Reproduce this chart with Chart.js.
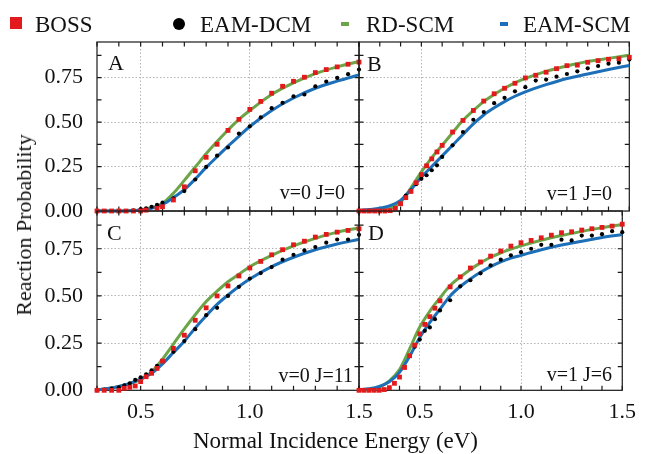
<!DOCTYPE html>
<html>
<head>
<meta charset="utf-8">
<script src="https://cdn.jsdelivr.net/npm/chart.js@4.4.1/dist/chart.umd.min.js"></script>
<style>
  body { margin: 0; background: #fff; }
  #wrap { position: relative; width: 645px; height: 454px; font-family: "Liberation Serif", "Times New Roman", serif; color: #111; }
  #wrap canvas { position: absolute; left: 0; top: 0; }
  .t { position: absolute; white-space: nowrap; line-height: 1; }
  .mk { position: absolute; }
</style>
</head>
<body>
<div id="wrap">
  <canvas id="panelA" width="645" height="454"></canvas>
  <canvas id="panelB" width="645" height="454"></canvas>
  <canvas id="panelC" width="645" height="454"></canvas>
  <canvas id="panelD" width="645" height="454"></canvas>

  <!-- legend -->
  <div class="mk" style="left:10px;top:17px;width:12px;height:12px;background:#e31a1c"></div>
  <div class="t" style="left:35px;top:12.7px;font-size:23px">BOSS</div>
  <div class="mk" style="left:173px;top:18px;width:12px;height:12px;border-radius:50%;background:#000"></div>
  <div class="t" style="left:200px;top:12.7px;font-size:23px">EAM-DCM</div>
  <div class="mk" style="left:341px;top:22px;width:8px;height:4px;background:#6ba547"></div>
  <div class="t" style="left:366px;top:12.7px;font-size:23px">RD-SCM</div>
  <div class="mk" style="left:500px;top:22px;width:8px;height:4px;background:#1d6fb8"></div>
  <div class="t" style="left:523px;top:12.7px;font-size:23px">EAM-SCM</div>

  <!-- panel labels -->
  <div class="t" style="left:108px;top:51.6px;font-size:22px">A</div>
  <div class="t" style="left:367px;top:52.6px;font-size:22px">B</div>
  <div class="t" style="left:107px;top:221.6px;font-size:22px">C</div>
  <div class="t" style="left:368px;top:221.6px;font-size:22px">D</div>
  <div class="t" style="right:300px;top:182.3px;font-size:20px">v=0 J=0</div>
  <div class="t" style="right:33px;top:183.3px;font-size:20px">v=1 J=0</div>
  <div class="t" style="right:292px;top:365.3px;font-size:20px">v=0 J=11</div>
  <div class="t" style="right:33px;top:364.3px;font-size:20px">v=1 J=6</div>

  <!-- axis titles -->
  <div class="t" style="left:193px;top:428.7px;font-size:23px">Normal Incidence Energy (eV)</div>
  <div class="t" style="left:23.5px;top:225px;font-size:22px;transform:translate(-50%,-50%) rotate(-90deg)">Reaction Probability</div>
</div>

<script>
// ---- data ----
const xTicks = [0.5, 1.0, 1.5];
const yTicks = [0, 0.25, 0.5, 0.75];

// panel A  (v=0 J=0)
const bossEA = [0.3, 0.333, 0.367, 0.4, 0.433, 0.467, 0.5, 0.525, 0.575, 0.6, 0.65, 0.7, 0.75, 0.8, 0.85, 0.9, 0.95, 1.0, 1.05, 1.1, 1.15, 1.2, 1.25, 1.3, 1.35, 1.4, 1.45, 1.5];
const bossA = [0, 0, 0, 0, 0, 0, 0, 0.005, 0.015, 0.024, 0.062, 0.136, 0.226, 0.302, 0.375, 0.453, 0.515, 0.571, 0.616, 0.662, 0.701, 0.729, 0.752, 0.778, 0.795, 0.81, 0.825, 0.837];
const dcmEA = [0.3, 0.333, 0.367, 0.4, 0.433, 0.467, 0.5, 0.525, 0.55, 0.575, 0.6, 0.65, 0.7, 0.75, 0.8, 0.85, 0.9, 0.95, 1.0, 1.05, 1.1, 1.15, 1.2, 1.25, 1.3, 1.35, 1.4, 1.45, 1.5];
const dcmA = [0, 0, 0, 0, 0, 0.003, 0.011, 0.015, 0.024, 0.034, 0.047, 0.071, 0.112, 0.177, 0.248, 0.311, 0.357, 0.435, 0.476, 0.526, 0.578, 0.608, 0.644, 0.655, 0.7, 0.728, 0.748, 0.769, 0.795];
const lineEA = [0.3, 0.35, 0.4, 0.45, 0.5, 0.55, 0.6, 0.65, 0.7, 0.75, 0.8, 0.85, 0.9, 0.95, 1.0, 1.1, 1.2, 1.3, 1.4, 1.5];
const rdA = [0, 0, 0, 0.001, 0.006, 0.018, 0.042, 0.1, 0.172, 0.247, 0.322, 0.39, 0.455, 0.515, 0.565, 0.655, 0.72, 0.772, 0.81, 0.84];
const eamA = [0, 0, 0, 0.001, 0.005, 0.015, 0.037, 0.075, 0.12, 0.18, 0.245, 0.305, 0.365, 0.42, 0.475, 0.565, 0.635, 0.69, 0.73, 0.765];

// panel B  (v=1 J=0)
const bossEB = [0.2, 0.225, 0.25, 0.275, 0.3, 0.325, 0.35, 0.375, 0.4, 0.425, 0.45, 0.475, 0.5, 0.525, 0.55, 0.575, 0.6, 0.65, 0.7, 0.75, 0.8, 0.85, 0.9, 0.95, 1.0, 1.05, 1.1, 1.15, 1.2, 1.25, 1.3, 1.35, 1.4, 1.45, 1.5];
const bossB = [0, 0, 0, 0, 0, 0, 0.002, 0.015, 0.041, 0.075, 0.11, 0.159, 0.205, 0.254, 0.293, 0.332, 0.369, 0.444, 0.509, 0.565, 0.618, 0.659, 0.69, 0.718, 0.748, 0.763, 0.78, 0.8, 0.817, 0.82, 0.836, 0.845, 0.853, 0.856, 0.864];
const dcmEB = [0.425, 0.45, 0.475, 0.5, 0.525, 0.55, 0.575, 0.6, 0.65, 0.7, 0.75, 0.8, 0.85, 0.9, 0.95, 1.0, 1.05, 1.1, 1.15, 1.2, 1.25, 1.3, 1.35, 1.4, 1.45, 1.5];
const dcmB = [0.086, 0.114, 0.151, 0.181, 0.201, 0.229, 0.257, 0.304, 0.369, 0.444, 0.513, 0.556, 0.606, 0.636, 0.673, 0.696, 0.733, 0.739, 0.755, 0.77, 0.785, 0.802, 0.815, 0.828, 0.834, 0.851];
const lineEB = [0.2, 0.25, 0.3, 0.35, 0.4, 0.45, 0.5, 0.55, 0.6, 0.65, 0.7, 0.75, 0.8, 0.85, 0.9, 0.95, 1.0, 1.1, 1.2, 1.3, 1.4, 1.5];
const rdB = [0, 0.001, 0.004, 0.015, 0.05, 0.13, 0.22, 0.3, 0.37, 0.44, 0.51, 0.565, 0.615, 0.655, 0.69, 0.72, 0.745, 0.785, 0.815, 0.84, 0.858, 0.875];
const eamB = [0.004, 0.008, 0.015, 0.03, 0.06, 0.12, 0.19, 0.25, 0.31, 0.37, 0.43, 0.49, 0.54, 0.58, 0.615, 0.645, 0.67, 0.71, 0.745, 0.77, 0.795, 0.818];

// panel C  (v=0 J=11)
const bossEC = [0.3, 0.333, 0.367, 0.4, 0.425, 0.45, 0.475, 0.5, 0.525, 0.55, 0.575, 0.6, 0.65, 0.7, 0.75, 0.8, 0.85, 0.9, 0.95, 1.0, 1.05, 1.1, 1.15, 1.2, 1.25, 1.3, 1.35, 1.4, 1.45, 1.5];
const bossC = [0, 0, 0, 0, 0.011, 0.016, 0.023, 0.046, 0.072, 0.09, 0.116, 0.155, 0.222, 0.292, 0.371, 0.437, 0.5, 0.553, 0.606, 0.648, 0.683, 0.718, 0.745, 0.771, 0.79, 0.812, 0.826, 0.838, 0.847, 0.856];
const dcmEC = bossEC;
const dcmC = [0, 0.002, 0.009, 0.016, 0.026, 0.037, 0.055, 0.069, 0.085, 0.106, 0.129, 0.155, 0.204, 0.261, 0.324, 0.398, 0.437, 0.5, 0.548, 0.592, 0.621, 0.653, 0.692, 0.718, 0.741, 0.759, 0.782, 0.799, 0.799, 0.824];
const lineEC = lineEA;
const rdC = [0.003, 0.009, 0.02, 0.035, 0.058, 0.097, 0.165, 0.245, 0.325, 0.4, 0.47, 0.525, 0.575, 0.615, 0.655, 0.715, 0.765, 0.805, 0.838, 0.86];
const eamC = [0.003, 0.009, 0.02, 0.036, 0.06, 0.09, 0.14, 0.2, 0.26, 0.33, 0.395, 0.455, 0.505, 0.55, 0.59, 0.655, 0.705, 0.745, 0.775, 0.8];

// panel D  (v=1 J=6)
const bossED = bossEB;
const bossD = [0, 0, 0, 0, 0, 0.004, 0.014, 0.037, 0.07, 0.121, 0.183, 0.239, 0.299, 0.349, 0.39, 0.435, 0.474, 0.548, 0.601, 0.648, 0.68, 0.711, 0.738, 0.764, 0.782, 0.794, 0.808, 0.822, 0.835, 0.84, 0.849, 0.856, 0.863, 0.87, 0.88];
const dcmED = [0.475, 0.5, 0.525, 0.55, 0.575, 0.6, 0.65, 0.7, 0.75, 0.8, 0.85, 0.9, 0.95, 1.0, 1.05, 1.1, 1.15, 1.2, 1.25, 1.3, 1.35, 1.4, 1.45, 1.5];
const dcmD = [0.231, 0.269, 0.315, 0.333, 0.377, 0.423, 0.477, 0.551, 0.583, 0.62, 0.662, 0.692, 0.715, 0.732, 0.75, 0.771, 0.771, 0.798, 0.794, 0.82, 0.82, 0.827, 0.843, 0.838];
const lineED = lineEB;
const rdD = [0, 0.004, 0.017, 0.05, 0.11, 0.22, 0.335, 0.42, 0.49, 0.555, 0.6, 0.64, 0.675, 0.705, 0.728, 0.748, 0.765, 0.795, 0.82, 0.842, 0.862, 0.878];
const eamD = [0.003, 0.008, 0.02, 0.045, 0.095, 0.18, 0.28, 0.36, 0.43, 0.5, 0.55, 0.59, 0.625, 0.655, 0.68, 0.7, 0.715, 0.745, 0.77, 0.79, 0.81, 0.825];

// ---- styling ----
const RED = '#e31a1c', GREEN = '#6ba547', BLUE = '#1d6fb8';
const FONT = 'Liberation Serif';
Chart.defaults.font.family = FONT;

const pts = (xs, ys) => xs.map((x, i) => ({ x: x, y: ys[i] }));

// frame with inward minor ticks, drawn under the data
const framePlugin = {
  id: 'frame',
  beforeDatasetsDraw(chart) {
    const { ctx, chartArea: a, scales } = chart;
    const sx = scales.x, sy = scales.y;
    ctx.save();
    ctx.strokeStyle = '#1a1a1a';
    ctx.lineWidth = 1.2;
    ctx.strokeRect(a.left, a.top, a.right - a.left, a.bottom - a.top);
    ctx.beginPath();
    for (let k = Math.round(sx.min * 10); k <= 15; k++) {
      const px = sx.getPixelForValue(k / 10);
      ctx.moveTo(px, a.bottom); ctx.lineTo(px, a.bottom - 4.5);
      ctx.moveTo(px, a.top); ctx.lineTo(px, a.top + 4.5);
    }
    for (let k = 1; k <= 7; k++) {
      const py = sy.getPixelForValue(k * 0.125);
      ctx.moveTo(a.left, py); ctx.lineTo(a.left + 4.5, py);
      ctx.moveTo(a.right, py); ctx.lineTo(a.right - 4.5, py);
    }
    ctx.stroke();
    ctx.restore();
  }
};

// box = [left, top, right, bottom] of the plot area in page pixels
function makePanel(id, box, xMin, showX, showY, s) {
  const yW = showY ? 90 : 0;   // room kept for y tick labels (labels are clipped to the axis box)
  const xH = showX ? 50 : 0;
  return new Chart(document.getElementById(id), {
    type: 'scatter',
    data: {
      datasets: [
        { label: 'BOSS', data: pts(s.bossE, s.boss), pointStyle: 'rect', pointRadius: 3.4,
          pointBackgroundColor: RED, pointBorderWidth: 0, clip: false },
        { label: 'EAM-DCM', data: pts(s.dcmE, s.dcm), pointStyle: 'circle', pointRadius: 2.1,
          pointBackgroundColor: '#000', pointBorderWidth: 0, clip: false },
        { label: 'EAM-SCM', data: pts(s.lineE, s.eam), showLine: true, pointRadius: 0,
          borderColor: BLUE, borderWidth: 3, cubicInterpolationMode: 'monotone', clip: false },
        { label: 'RD-SCM', data: pts(s.lineE, s.rd), showLine: true, pointRadius: 0,
          borderColor: GREEN, borderWidth: 3, cubicInterpolationMode: 'monotone', clip: false }
      ]
    },
    options: {
      responsive: false,
      animation: false,
      events: [],
      layout: {
        autoPadding: false,
        padding: { left: box[0] - yW, top: box[1], right: 645 - box[2], bottom: 454 - box[3] - xH }
      },
      plugins: { legend: { display: false }, tooltip: { enabled: false } },
      scales: {
        x: {
          type: 'linear', min: xMin, max: 1.5,
          afterBuildTicks: (sc) => { sc.ticks = xTicks.map(v => ({ value: v })); },
          afterFit: (sc) => { sc.height = xH; },
          grid: { color: '#b4b4b4', lineWidth: 1, drawTicks: false },
          border: { display: false, dash: [1.5, 2] },
          ticks: { display: showX, padding: 9, maxRotation: 0, autoSkip: false, color: '#111',
                   font: { size: 22 }, callback: (v) => v.toFixed(1) }
        },
        y: {
          min: 0, max: 0.95,
          afterBuildTicks: (sc) => { sc.ticks = yTicks.map(v => ({ value: v })); },
          afterFit: (sc) => { sc.width = yW; },
          grid: { color: '#b4b4b4', lineWidth: 1, drawTicks: false },
          border: { display: false, dash: [1.5, 2] },
          ticks: { display: showY, padding: 14, autoSkip: false, color: '#111',
                   font: { size: 22 }, callback: (v) => v.toFixed(2) }
        }
      }
    },
    plugins: [framePlugin]
  });
}

makePanel('panelA', [97, 42, 359, 211], 0.3, false, true,
  { bossE: bossEA, boss: bossA, dcmE: dcmEA, dcm: dcmA, lineE: lineEA, rd: rdA, eam: eamA });
makePanel('panelB', [359, 42, 629.3, 211], 0.2, false, false,
  { bossE: bossEB, boss: bossB, dcmE: dcmEB, dcm: dcmB, lineE: lineEB, rd: rdB, eam: eamB });
makePanel('panelC', [97, 211, 359, 390.3], 0.3, true, true,
  { bossE: bossEC, boss: bossC, dcmE: dcmEC, dcm: dcmC, lineE: lineEC, rd: rdC, eam: eamC });
makePanel('panelD', [359, 211, 629.3, 390.3], 0.2, true, false,
  { bossE: bossED, boss: bossD, dcmE: dcmED, dcm: dcmD, lineE: lineED, rd: rdD, eam: eamD });
</script>
</body>
</html>
